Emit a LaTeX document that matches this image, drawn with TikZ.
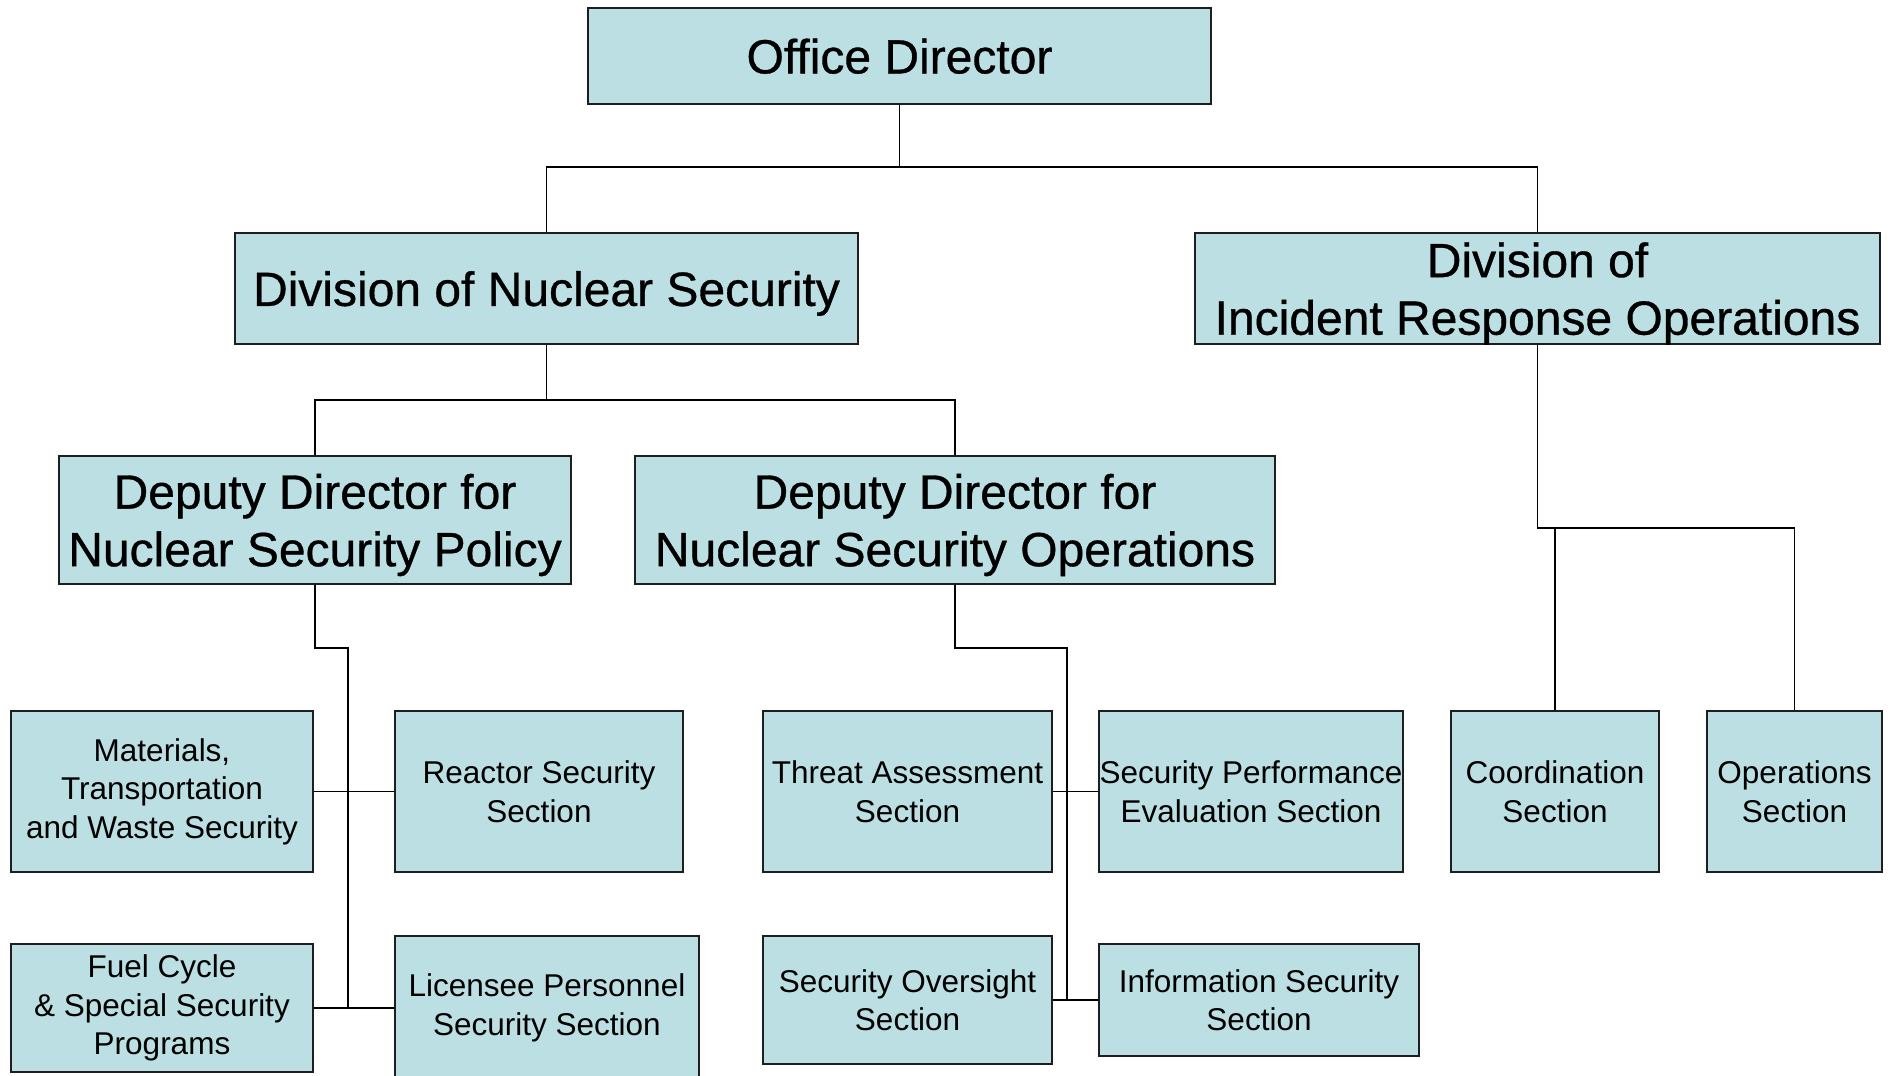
\documentclass[tikz,border=0pt]{standalone}
\usepackage{fontspec}
\setmainfont{Liberation Sans}
\newfontfamily\headfont{Liberation Sans}[FakeBold=0.7]
\definecolor{unitfill}{RGB}{187,223,226}
\definecolor{unitline}{RGB}{30,30,30}

\begin{document}
\begin{tikzpicture}[x=1pt,y=-1pt,
		unit/.style={draw=unitline, line width=2pt, fill=unitfill, inner sep=0pt, align=center, text=black},
		big/.style={font=\headfont\fontsize{48}{57.6}\selectfont, text depth=0pt},
		small/.style={font=\fontsize{31.5}{38.5}\selectfont},
		link/.style={draw=black, line width=1.8pt}]
		\useasboundingbox (0,0) rectangle (1893,1076);

		% Define the macro.
		% 1st argument: Name of the node.
		% 2nd argument: Text size style (big or small).
		% 3rd argument: Centre of the box.
		% 4th argument: Width of the box.
		% 5th argument: Height of the box.
		% 6th argument: Text placed in the box.

		\newcommand{\orgUnit}[6]{
			\node[unit,#2,minimum width=#4pt,minimum height=#5pt] (#1) at (#3) {#6};
		}

		% TOP
		\orgUnit{od}{big}{899.5,56}{623}{96}{Office Director}

		% DIVISIONS
		\orgUnit{dns}{big}{546.5,288.5}{623}{111}{Division of Nuclear Security}
		\orgUnit{diro}{big}{1537.5,288.5}{685}{111}{Division of\\Incident Response Operations}

		% DEPUTY DIRECTORS
		\orgUnit{ddp}{big}{315,520}{512}{128}{Deputy Director for\\Nuclear Security Policy}
		\orgUnit{ddo}{big}{955,520}{640}{128}{Deputy Director for\\Nuclear Security Operations}

		% SECTIONS
		\orgUnit{mat}{small}{162,791.5}{302}{161}{Materials,\\Transportation\\and Waste Security}
		\orgUnit{rea}{small}{539,791.5}{288}{161}{Reactor Security\\Section}
		\orgUnit{fuel}{small}{162,1008}{302}{128}{Fuel Cycle\\\& Special Security\\Programs}
		\orgUnit{lic}{small}{547,1008}{304}{144}{Licensee Personnel\\Security Section}

		\orgUnit{tas}{small}{907.5,791.5}{289}{161}{Threat Assessment\\Section}
		\orgUnit{spe}{small}{1251,791.5}{304}{161}{Security Performance\\Evaluation Section}
		\orgUnit{soc}{small}{907.5,1000}{289}{128}{Security Oversight\\Section}
		\orgUnit{isc}{small}{1259,1000}{320}{112}{Information Security\\Section}

		\orgUnit{coo}{small}{1555,791.5}{208}{161}{Coordination\\Section}
		\orgUnit{ops}{small}{1794.5,791.5}{175}{161}{Operations\\Section}

		% CONNECTORS
		\coordinate (busTop) at (899.5,167);
		\draw[link] (od.south) -- (busTop);
		\draw[link] (dns.north) |- (busTop) -| (diro.north);

		\coordinate (busDns) at (546.5,400);
		\draw[link] (dns.south) -- (busDns);
		\draw[link] (ddp.north) |- (busDns) -| (ddo.north);

		\coordinate (busDiro) at (1537.5,528);
		\draw[link] (diro.south) -- (busDiro) -| (ops.north);
		\draw[link] (coo.north) -- (coo.north |- busDiro);

		\coordinate (spineP) at (348,648);
		\draw[link] (ddp.south) |- (spineP) -- (spineP |- fuel.east);
		\draw[link] (mat.east) -- (rea.west);
		\draw[link] (fuel.east) -- (lic.west);

		\coordinate (spineO) at (1067,648);
		\draw[link] (ddo.south) |- (spineO) -- (spineO |- soc.east);
		\draw[link] (tas.east) -- (spe.west);
		\draw[link] (soc.east) -- (isc.west);

	\end{tikzpicture}
\end{document}
